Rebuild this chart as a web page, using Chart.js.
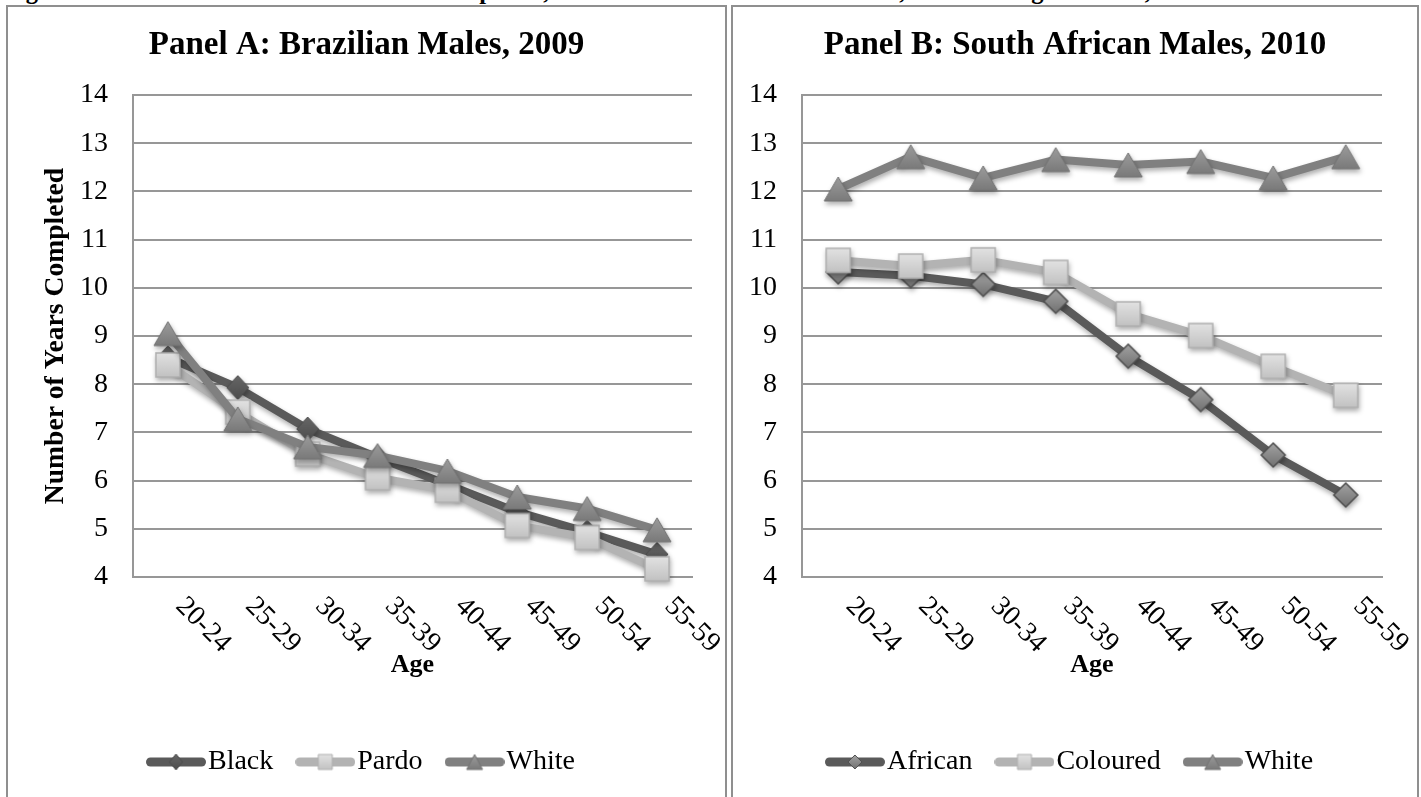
<!DOCTYPE html>
<html>
<head>
<meta charset="utf-8">
<title>Years of Education Completed by Age</title>
<script src="https://cdn.jsdelivr.net/npm/chart.js@4.4.1/dist/chart.umd.min.js"></script>
<style>
  html, body { margin: 0; padding: 0; background: #fff; width: 1421px; height: 797px; overflow: hidden; }
  .caption { position: absolute; left: 4px; top: -21px; font: bold 24.5px "Liberation Serif", serif; line-height: 24px; white-space: nowrap; color: #000; }
  .panel { position: absolute; top: 5px; height: 810px; border: 2px solid #8f8f8f; box-sizing: border-box; background: #fff; }
  #boxA { left: 6px; width: 721px; }
  #boxB { left: 731px; width: 688px; }
  canvas { position: absolute; left: 0; top: 0; }
</style>
</head>
<body>
<div class="caption">Figure 1: Number of Years of Education Completed, Males in Brazil and South Africa, Race and Age Cohorts, 2009 and 2010</div>
<div class="panel" id="boxA"><canvas id="chartA" width="717" height="790"></canvas></div>
<div class="panel" id="boxB"><canvas id="chartB" width="684" height="790"></canvas></div>
<script>
// ---- data ----
const ageGroups = ['20-24', '25-29', '30-34', '35-39', '40-44', '45-49', '50-54', '55-59'];
const yTickMin = 4;
const yTickMax = 14;

// Panel A: Brazil 2009
const brazilLabels = ['Black', 'Pardo', 'White'];
const brazilBlack = [8.55, 7.93, 7.07, 6.48, 5.92, 5.35, 4.93, 4.47];
const brazilPardo = [8.40, 7.42, 6.55, 6.06, 5.80, 5.07, 4.82, 4.17];
const brazilWhite = [9.05, 7.28, 6.70, 6.52, 6.20, 5.66, 5.42, 4.98];

// Panel B: South Africa 2010
const southAfricaLabels = ['African', 'Coloured', 'White'];
const saAfrican = [10.33, 10.25, 10.07, 9.72, 8.58, 7.68, 6.53, 5.70];
const saColoured = [10.57, 10.45, 10.58, 10.32, 9.46, 9.01, 8.37, 7.77];
const saWhite = [12.05, 12.72, 12.28, 12.66, 12.55, 12.62, 12.28, 12.72];

// ---- styling ----
const FONT = '"Liberation Serif", "Times New Roman", serif';
const GRID = '#979797';
const LINE_DARK = '#5a5a5a';
const LINE_LIGHT = '#b3b3b3';
const LINE_MID = '#808080';

Chart.defaults.font.family = FONT;
Chart.defaults.color = '#000';

function tracePath(g, shape, cx, cy, w, h) {
  g.beginPath();
  if (shape === 'diamond') {
    g.moveTo(cx, cy - h / 2); g.lineTo(cx + w / 2, cy); g.lineTo(cx, cy + h / 2); g.lineTo(cx - w / 2, cy);
    g.closePath();
  } else if (shape === 'square') {
    g.rect(cx - w / 2, cy - h / 2, w, h);
  } else {
    g.moveTo(cx, cy - h / 2); g.lineTo(cx + w / 2, cy + h / 2); g.lineTo(cx - w / 2, cy + h / 2);
    g.closePath();
  }
}

// marker bitmap with a soft vertical gradient
function marker(shape, w, h, top, bottom, stroke, lw) {
  const pad = 2;
  const c = document.createElement('canvas');
  c.width = Math.ceil(w + pad * 2);
  c.height = Math.ceil(h + pad * 2);
  const g = c.getContext('2d');
  const cx = c.width / 2, cy = c.height / 2;
  const grad = g.createLinearGradient(0, cy - h / 2, 0, cy + h / 2);
  grad.addColorStop(0, top);
  grad.addColorStop(1, bottom);
  tracePath(g, shape, cx, cy, w, h);
  g.fillStyle = grad;
  g.fill();
  if (lw > 0) { g.lineWidth = lw; g.strokeStyle = stroke; g.lineJoin = 'miter'; g.stroke(); }
  return c;
}

// legend swatch: thick rounded line with the marker in the middle
function swatch(color, mk) {
  const c = document.createElement('canvas');
  c.width = 60; c.height = 24;
  const g = c.getContext('2d');
  g.lineCap = 'round';
  g.lineWidth = 9;
  g.strokeStyle = color;
  g.beginPath(); g.moveTo(4.5, 12); g.lineTo(55.5, 12); g.stroke();
  g.drawImage(mk, (60 - mk.width) / 2, (24 - mk.height) / 2);
  return c;
}

const mkDiamondDark = marker('diamond', 22, 24, '#666666', '#4c4c4c', '#4c4c4c', 1);
const mkDiamondMid = marker('diamond', 24, 24, '#a2a2a2', '#717171', '#4f4f4f', 1.5);
const mkSquare = marker('square', 24, 24, '#e2e2e2', '#c2c2c2', '#b0b0b0', 1.5);
const mkTriangle = marker('triangle', 28, 24, '#9c9c9c', '#7a7a7a', '#737373', 1);

const lgDiamondDark = marker('diamond', 13, 16, '#666666', '#4c4c4c', '#4c4c4c', 1);
const lgDiamondMid = marker('diamond', 14, 14, '#a2a2a2', '#717171', '#4f4f4f', 1);
const lgSquare = marker('square', 14, 15, '#e2e2e2', '#c2c2c2', '#b0b0b0', 1);
const lgTriangle = marker('triangle', 16, 15, '#9c9c9c', '#7a7a7a', '#737373', 1);

// soft drop shadow under lines and markers
const shadowPlugin = {
  id: 'seriesShadow',
  beforeDatasetDraw(chart) {
    const c = chart.ctx;
    c.save();
    c.shadowColor = 'rgba(0,0,0,0.32)';
    c.shadowBlur = 5;
    c.shadowOffsetX = 1;
    c.shadowOffsetY = 3;
  },
  afterDatasetDraw(chart) { chart.ctx.restore(); }
};

// age labels slanted downward at 45 degrees, starting at each category
const slantedLabels = {
  id: 'slantedLabels',
  afterDraw(chart) {
    const xs = chart.scales.x;
    const c = chart.ctx;
    c.save();
    c.font = '28px ' + FONT;
    c.fillStyle = '#000';
    c.textAlign = 'left';
    c.textBaseline = 'middle';
    ageGroups.forEach((lab, i) => {
      const px = xs.getPixelForValue(i);
      c.save();
      c.translate(px + 12, chart.chartArea.bottom + 25);
      c.rotate(Math.PI / 4);
      c.fillText(lab, 0, 0);
      c.restore();
    });
    c.restore();
  }
};

function series(label, data, color, width, mk, order) {
  return {
    label, data, order,
    yAxisID: 'y',
    borderColor: color,
    backgroundColor: color,
    borderWidth: width,
    borderJoinStyle: 'round',
    borderCapStyle: 'round',
    pointStyle: mk,
    pointRadius: 12,
    pointHoverRadius: 12,
    tension: 0,
    clip: false
  };
}

function makeChart(id, cfg) {
  const swatches = cfg.swatches;
  return new Chart(document.getElementById(id), {
    type: 'line',
    data: { labels: ageGroups, datasets: cfg.datasets },
    plugins: [shadowPlugin, slantedLabels],
    options: {
      responsive: false,
      animation: false,
      events: [],
      layout: { padding: { left: 0, right: 0, top: 0, bottom: 11 } },
      plugins: {
        title: {
          display: true,
          text: cfg.title,
          color: '#000',
          font: { family: FONT, size: 33, weight: 'bold', lineHeight: 1.2 },
          padding: { top: 18.2, bottom: 30.2 }
        },
        legend: {
          display: true,
          position: 'bottom',
          labels: {
            usePointStyle: true,
            pointStyleWidth: 36,
            padding: 34,
            color: '#000',
            font: { family: FONT, size: 28 },
            generateLabels(chart) {
              const items = Chart.defaults.plugins.legend.labels.generateLabels(chart);
              items.forEach(it => { it.pointStyle = swatches[it.datasetIndex]; it.fontColor = '#000'; });
              return items.sort((a, b) => a.datasetIndex - b.datasetIndex);
            }
          }
        },
        tooltip: { enabled: false }
      },
      scales: {
        x: {
          type: 'category',
          offset: true,
          grid: { display: false },
          border: { display: true, color: GRID, width: 2 },
          ticks: { display: false },
          title: {
            display: true,
            text: 'Age',
            color: '#000',
            font: { family: FONT, size: 26, weight: 'bold', lineHeight: 1.2 },
            padding: { top: 0, bottom: 32.9 }
          },
          afterFit(s) { s.height = 137; }
        },
        y: {
          position: 'left',
          min: yTickMin,
          max: yTickMax,
          ticks: { stepSize: 1, padding: 25, color: '#000', font: { family: FONT, size: 28 } },
          grid: { color: GRID, lineWidth: 2, drawTicks: false },
          border: { display: true, color: GRID, width: 2 },
          title: cfg.yTitle ? {
            display: true,
            text: cfg.yTitle,
            color: '#000',
            font: { family: FONT, size: 27.6, weight: 'bold', lineHeight: 1.2 },
            padding: { top: 31.4, bottom: 0 }
          } : { display: false },
          afterFit(s) { s.width = cfg.yWidth; }
        },
        // empty right-hand margin, so the title and legend stay centred on the panel
        margin: {
          position: 'right',
          min: yTickMin,
          max: yTickMax,
          ticks: { display: false },
          grid: { display: false, drawOnChartArea: false },
          border: { display: false },
          afterFit(s) { s.width = cfg.rightGap; }
        }
      }
    }
  });
}

makeChart('chartA', {
  title: 'Panel A: Brazilian Males, 2009',
  yTitle: 'Number of Years Completed',
  yWidth: 125,
  rightGap: 33,
  swatches: [swatch(LINE_DARK, lgDiamondDark), swatch(LINE_LIGHT, lgSquare), swatch(LINE_MID, lgTriangle)],
  datasets: [
    series(brazilLabels[0], brazilBlack, LINE_DARK, 8, mkDiamondDark, 2),
    series(brazilLabels[1], brazilPardo, LINE_LIGHT, 8, mkSquare, 1),
    series(brazilLabels[2], brazilWhite, LINE_MID, 8, mkTriangle, 0)
  ]
});

makeChart('chartB', {
  title: 'Panel B: South African Males, 2010',
  yTitle: null,
  yWidth: 69,
  rightGap: 35,
  swatches: [swatch(LINE_DARK, lgDiamondMid), swatch(LINE_LIGHT, lgSquare), swatch(LINE_MID, lgTriangle)],
  datasets: [
    series(southAfricaLabels[0], saAfrican, LINE_DARK, 8, mkDiamondMid, 2),
    series(southAfricaLabels[1], saColoured, LINE_LIGHT, 8, mkSquare, 1),
    series(southAfricaLabels[2], saWhite, LINE_MID, 8, mkTriangle, 0)
  ]
});
</script>
</body>
</html>
